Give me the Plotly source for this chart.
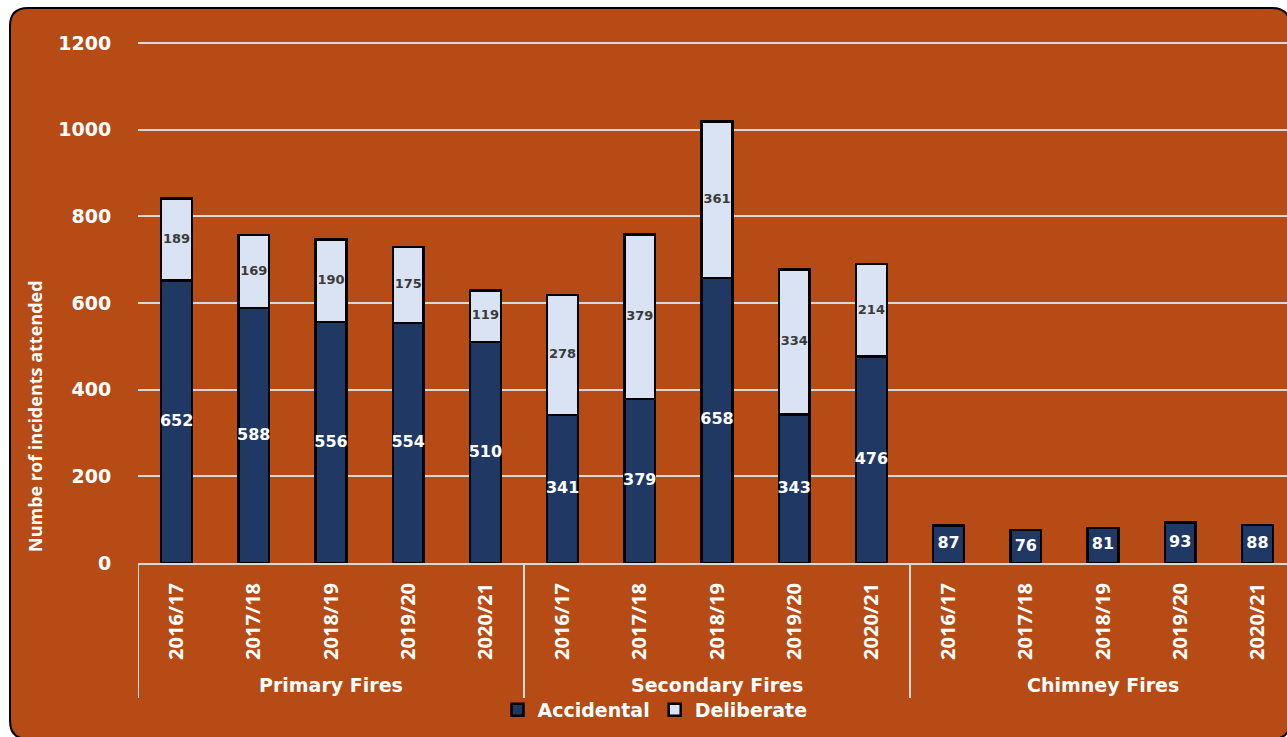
import plotly.graph_objects as go

# Fire incidents attended, by type and financial year
groups = ["Primary Fires", "Secondary Fires", "Chimney Fires"]
years = ["2016/17", "2017/18", "2018/19", "2019/20", "2020/21"]
accidental = [652, 588, 556, 554, 510,
              341, 379, 658, 343, 476,
              87, 76, 81, 93, 88]
deliberate = [189, 169, 190, 175, 119,
              278, 379, 361, 334, 214,
              None, None, None, None, None]
y_ticks = [0, 200, 400, 600, 800, 1000, 1200]

W, H = 1287, 737
ML, MR, MT, MB = 138, 0, 38, 174
PW, PH = W - ML - MR, H - MT - MB
Y_TOP = PH * 1200 / 520  # 520 px per 1200 incidents

BG = "#B64B15"
NAVY = "#203864"
LIGHT = "#DAE3F3"
GRID = "#D9D9D9"
FONT = "DejaVu Sans"

n = len(accidental)
xs = list(range(n))
tick_text = years * len(groups)
slot = 77.2  # pixels per category


def px_x(p):
    return (p - ML) / PW


def px_y(p):
    return (H - MB - p) / PH


fig = go.Figure()

fig.add_bar(x=xs, y=accidental, name="Accidental", width=0.4,
            marker=dict(color=NAVY, line=dict(color="black", width=2.5)))
fig.add_bar(x=xs, y=deliberate, name="Deliberate", width=0.4,
            marker=dict(color=LIGHT, line=dict(color="black", width=2.5)))

# value labels centred in each segment
fig.add_scatter(x=xs, y=[a / 2 for a in accidental], mode="text",
                text=[str(a) for a in accidental], showlegend=False,
                textfont=dict(family=FONT, size=16, color="white", weight="bold"),
                hoverinfo="skip")
dx = [x for x, d in zip(xs, deliberate) if d]
dy = [a + d / 2 for a, d in zip(accidental, deliberate) if d]
dt = [str(d) for d in deliberate if d]
fig.add_scatter(x=dx, y=dy, mode="text", text=dt, showlegend=False,
                textfont=dict(family=FONT, size=13, color="#3A3A3A", weight="bold"),
                hoverinfo="skip")

# rounded frame behind the chart
x0, x1 = px_x(10), px_x(1290)
y0, y1 = px_y(8), px_y(739)
rx, ry = 18 / PW, 18 / PH
frame = (f"M {x0 + rx},{y0} L {x1 - rx},{y0} Q {x1},{y0} {x1},{y0 - ry} "
         f"L {x1},{y1 + ry} Q {x1},{y1} {x1 - rx},{y1} "
         f"L {x0 + rx},{y1} Q {x0},{y1} {x0},{y1 + ry} "
         f"L {x0},{y0 - ry} Q {x0},{y0} {x0 + rx},{y0} Z")
fig.add_shape(type="path", path=frame, xref="paper", yref="paper",
              fillcolor=BG, line=dict(color="black", width=2), layer="below")

# group dividers and group labels under the axis
for b in [-0.5, 4.5, 9.5]:
    fig.add_shape(type="line", xref="x", yref="paper", x0=b, x1=b,
                  y0=0, y1=px_y(698), line=dict(color=GRID, width=2))
for i, g in enumerate(groups):
    fig.add_annotation(x=i * 5 + 2, y=px_y(685), xref="x", yref="paper",
                       text=g, showarrow=False, yanchor="middle",
                       font=dict(family=FONT, size=19, color="white", weight="bold"))

fig.add_annotation(x=px_x(35), y=px_y(416), xref="paper", yref="paper",
                   text="Numbe rof incidents attended", textangle=-90,
                   showarrow=False, xanchor="center", yanchor="middle",
                   font=dict(family="Open Sans", size=18, color="white", weight="bold"))

fig.update_layout(
    width=W, height=H,
    margin=dict(l=ML, r=MR, t=MT, b=MB),
    paper_bgcolor="white",
    plot_bgcolor="rgba(0,0,0,0)",
    barmode="stack",
    showlegend=True,
    legend=dict(orientation="h", x=px_x(655), y=px_y(710),
                xanchor="center", yanchor="middle",
                font=dict(family=FONT, size=19, color="white", weight="bold"),
                bgcolor="rgba(0,0,0,0)", itemwidth=30, traceorder="normal"),
    xaxis=dict(range=[-0.5, -0.5 + PW / slot], tickmode="array",
               tickvals=xs, ticktext=tick_text, tickangle=-90,
               ticks="outside", ticklen=10, tickcolor="rgba(0,0,0,0)",
               tickfont=dict(family="Open Sans", size=20, color="white", weight="bold"),
               showgrid=False, showline=True, linecolor=GRID, linewidth=2,
               zeroline=False, fixedrange=True),
    yaxis=dict(range=[0, Y_TOP], tickmode="array", tickvals=y_ticks,
               ticks="outside", ticklen=22, tickcolor="rgba(0,0,0,0)",
               tickfont=dict(family=FONT, size=19, color="white", weight="bold"),
               showgrid=True, gridcolor=GRID, gridwidth=2,
               zeroline=False, showline=False, fixedrange=True),
)

fig.write_html("out.html")
